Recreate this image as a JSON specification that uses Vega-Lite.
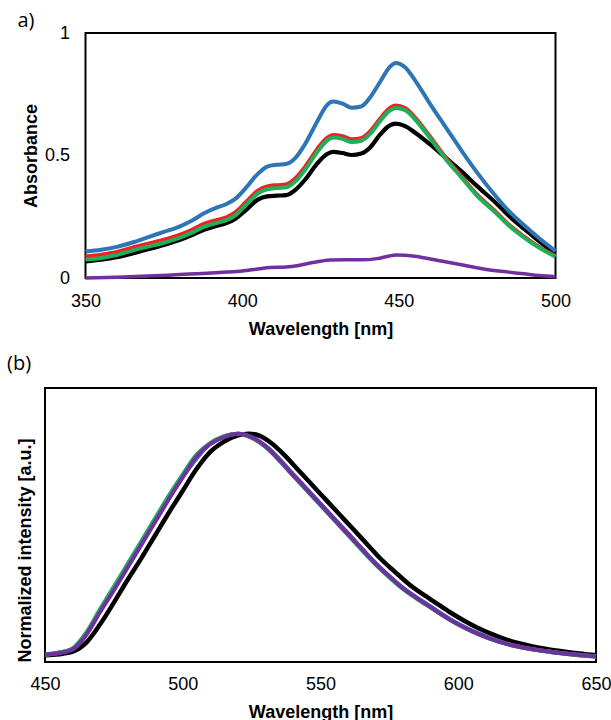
{
  "$schema": "https://vega.github.io/schema/vega-lite/v6.json",
  "background": "white",
  "padding": {"left": 6, "top": 10, "right": 5, "bottom": 5},
  "spacing": 110,
  "bounds": "flush",
  "center": true,
  "config": {
    "view": {"stroke": "black", "strokeWidth": 2},
    "axis": {
      "domain": false, "grid": false, "ticks": false, "tickSize": 0, "labelFlush": false, "labelOverlap": false,
      "labelFont": "Liberation Sans", "labelFontSize": 18, "labelColor": "black",
      "titleFont": "Liberation Sans", "titleFontSize": 18, "titleFontWeight": "bold", "titleColor": "black"
    },
    "title": {"font": "Open Sans", "fontSize": 20, "fontWeight": "normal", "color": "black", "anchor": "start", "frame": "bounds", "baseline": "alphabetic"}
  },
  "datasets": {
    "abs": [
      {"s":"Black","nm":350,"v":0.068},{"s":"Black","nm":355,"v":0.075},{"s":"Black","nm":360,"v":0.085},{"s":"Black","nm":365,"v":0.1},{"s":"Black","nm":370,"v":0.117},{"s":"Black","nm":375,"v":0.135},{"s":"Black","nm":380,"v":0.155},{"s":"Black","nm":384,"v":0.175},{"s":"Black","nm":388,"v":0.198},{"s":"Black","nm":392,"v":0.213},{"s":"Black","nm":395,"v":0.224},{"s":"Black","nm":398,"v":0.243},{"s":"Black","nm":401,"v":0.275},{"s":"Black","nm":405,"v":0.32},{"s":"Black","nm":408,"v":0.333},{"s":"Black","nm":411,"v":0.336},{"s":"Black","nm":414,"v":0.338},{"s":"Black","nm":417,"v":0.36},{"s":"Black","nm":420,"v":0.4},{"s":"Black","nm":424,"v":0.468},{"s":"Black","nm":427,"v":0.505},{"s":"Black","nm":429,"v":0.515},{"s":"Black","nm":432,"v":0.51},{"s":"Black","nm":435,"v":0.502},{"s":"Black","nm":438,"v":0.508},{"s":"Black","nm":441,"v":0.535},{"s":"Black","nm":444,"v":0.585},{"s":"Black","nm":447,"v":0.622},{"s":"Black","nm":449,"v":0.63},{"s":"Black","nm":452,"v":0.62},{"s":"Black","nm":455,"v":0.595},{"s":"Black","nm":460,"v":0.545},{"s":"Black","nm":465,"v":0.49},{"s":"Black","nm":470,"v":0.435},{"s":"Black","nm":475,"v":0.375},{"s":"Black","nm":481,"v":0.306},{"s":"Black","nm":485,"v":0.255},{"s":"Black","nm":490,"v":0.2},{"s":"Black","nm":495,"v":0.148},{"s":"Black","nm":500,"v":0.1},

      {"s":"Red","nm":350,"v":0.088},{"s":"Red","nm":355,"v":0.095},{"s":"Red","nm":360,"v":0.106},{"s":"Red","nm":365,"v":0.124},{"s":"Red","nm":370,"v":0.14},{"s":"Red","nm":375,"v":0.156},{"s":"Red","nm":380,"v":0.176},{"s":"Red","nm":384,"v":0.197},{"s":"Red","nm":388,"v":0.222},{"s":"Red","nm":392,"v":0.237},{"s":"Red","nm":395,"v":0.248},{"s":"Red","nm":398,"v":0.27},{"s":"Red","nm":401,"v":0.307},{"s":"Red","nm":405,"v":0.357},{"s":"Red","nm":408,"v":0.374},{"s":"Red","nm":411,"v":0.379},{"s":"Red","nm":414,"v":0.382},{"s":"Red","nm":417,"v":0.407},{"s":"Red","nm":420,"v":0.452},{"s":"Red","nm":424,"v":0.527},{"s":"Red","nm":427,"v":0.571},{"s":"Red","nm":429,"v":0.584},{"s":"Red","nm":432,"v":0.579},{"s":"Red","nm":435,"v":0.566},{"s":"Red","nm":438,"v":0.571},{"s":"Red","nm":441,"v":0.601},{"s":"Red","nm":444,"v":0.65},{"s":"Red","nm":447,"v":0.692},{"s":"Red","nm":449,"v":0.704},{"s":"Red","nm":452,"v":0.694},{"s":"Red","nm":455,"v":0.658},{"s":"Red","nm":460,"v":0.577},{"s":"Red","nm":465,"v":0.491},{"s":"Red","nm":470,"v":0.415},{"s":"Red","nm":475,"v":0.34},{"s":"Red","nm":481,"v":0.27},{"s":"Red","nm":485,"v":0.219},{"s":"Red","nm":490,"v":0.169},{"s":"Red","nm":495,"v":0.125},{"s":"Red","nm":500,"v":0.09},

      {"s":"Green","nm":350,"v":0.075},{"s":"Green","nm":355,"v":0.082},{"s":"Green","nm":360,"v":0.094},{"s":"Green","nm":365,"v":0.112},{"s":"Green","nm":370,"v":0.128},{"s":"Green","nm":375,"v":0.144},{"s":"Green","nm":380,"v":0.164},{"s":"Green","nm":384,"v":0.185},{"s":"Green","nm":388,"v":0.21},{"s":"Green","nm":392,"v":0.225},{"s":"Green","nm":395,"v":0.236},{"s":"Green","nm":398,"v":0.258},{"s":"Green","nm":401,"v":0.295},{"s":"Green","nm":405,"v":0.345},{"s":"Green","nm":408,"v":0.362},{"s":"Green","nm":411,"v":0.367},{"s":"Green","nm":414,"v":0.37},{"s":"Green","nm":417,"v":0.395},{"s":"Green","nm":420,"v":0.44},{"s":"Green","nm":424,"v":0.515},{"s":"Green","nm":427,"v":0.56},{"s":"Green","nm":429,"v":0.573},{"s":"Green","nm":432,"v":0.568},{"s":"Green","nm":435,"v":0.555},{"s":"Green","nm":438,"v":0.56},{"s":"Green","nm":441,"v":0.59},{"s":"Green","nm":444,"v":0.64},{"s":"Green","nm":447,"v":0.682},{"s":"Green","nm":449,"v":0.694},{"s":"Green","nm":452,"v":0.685},{"s":"Green","nm":455,"v":0.65},{"s":"Green","nm":460,"v":0.57},{"s":"Green","nm":465,"v":0.485},{"s":"Green","nm":470,"v":0.41},{"s":"Green","nm":475,"v":0.335},{"s":"Green","nm":481,"v":0.265},{"s":"Green","nm":485,"v":0.215},{"s":"Green","nm":490,"v":0.165},{"s":"Green","nm":495,"v":0.122},{"s":"Green","nm":500,"v":0.087},

      {"s":"Blue","nm":350,"v":0.108},{"s":"Blue","nm":355,"v":0.115},{"s":"Blue","nm":360,"v":0.127},{"s":"Blue","nm":365,"v":0.145},{"s":"Blue","nm":370,"v":0.167},{"s":"Blue","nm":375,"v":0.188},{"s":"Blue","nm":380,"v":0.21},{"s":"Blue","nm":384,"v":0.235},{"s":"Blue","nm":388,"v":0.265},{"s":"Blue","nm":392,"v":0.288},{"s":"Blue","nm":395,"v":0.302},{"s":"Blue","nm":398,"v":0.325},{"s":"Blue","nm":401,"v":0.365},{"s":"Blue","nm":405,"v":0.425},{"s":"Blue","nm":408,"v":0.455},{"s":"Blue","nm":411,"v":0.462},{"s":"Blue","nm":414,"v":0.465},{"s":"Blue","nm":417,"v":0.49},{"s":"Blue","nm":420,"v":0.545},{"s":"Blue","nm":424,"v":0.64},{"s":"Blue","nm":427,"v":0.705},{"s":"Blue","nm":429,"v":0.72},{"s":"Blue","nm":432,"v":0.712},{"s":"Blue","nm":435,"v":0.695},{"s":"Blue","nm":438,"v":0.7},{"s":"Blue","nm":441,"v":0.74},{"s":"Blue","nm":444,"v":0.8},{"s":"Blue","nm":447,"v":0.86},{"s":"Blue","nm":449,"v":0.878},{"s":"Blue","nm":452,"v":0.86},{"s":"Blue","nm":455,"v":0.81},{"s":"Blue","nm":460,"v":0.71},{"s":"Blue","nm":465,"v":0.615},{"s":"Blue","nm":470,"v":0.52},{"s":"Blue","nm":475,"v":0.43},{"s":"Blue","nm":481,"v":0.333},{"s":"Blue","nm":485,"v":0.275},{"s":"Blue","nm":490,"v":0.215},{"s":"Blue","nm":495,"v":0.16},{"s":"Blue","nm":500,"v":0.11},

      {"s":"Purple","nm":350,"v":0.0},{"s":"Purple","nm":360,"v":0.003},{"s":"Purple","nm":370,"v":0.008},{"s":"Purple","nm":380,"v":0.014},{"s":"Purple","nm":390,"v":0.02},{"s":"Purple","nm":395,"v":0.024},{"s":"Purple","nm":400,"v":0.029},{"s":"Purple","nm":405,"v":0.037},{"s":"Purple","nm":409,"v":0.043},{"s":"Purple","nm":414,"v":0.045},{"s":"Purple","nm":418,"v":0.051},{"s":"Purple","nm":423,"v":0.064},{"s":"Purple","nm":428,"v":0.073},{"s":"Purple","nm":433,"v":0.075},{"s":"Purple","nm":438,"v":0.074},{"s":"Purple","nm":443,"v":0.079},{"s":"Purple","nm":447,"v":0.09},{"s":"Purple","nm":449,"v":0.094},{"s":"Purple","nm":452,"v":0.093},{"s":"Purple","nm":457,"v":0.085},{"s":"Purple","nm":464,"v":0.068},{"s":"Purple","nm":470,"v":0.054},{"s":"Purple","nm":478,"v":0.035},{"s":"Purple","nm":485,"v":0.024},{"s":"Purple","nm":490,"v":0.017},{"s":"Purple","nm":495,"v":0.01},{"s":"Purple","nm":500,"v":0.005}
    ],
    "fl": [
      {"s":"Black","nm":450,"v":0.03},{"s":"Black","nm":455,"v":0.034},{"s":"Black","nm":460,"v":0.045},{"s":"Black","nm":465,"v":0.085},{"s":"Black","nm":470,"v":0.165},{"s":"Black","nm":475,"v":0.26},{"s":"Black","nm":480,"v":0.36},{"s":"Black","nm":485,"v":0.455},{"s":"Black","nm":490,"v":0.555},{"s":"Black","nm":495,"v":0.655},{"s":"Black","nm":500,"v":0.75},{"s":"Black","nm":505,"v":0.845},{"s":"Black","nm":510,"v":0.92},{"s":"Black","nm":515,"v":0.965},{"s":"Black","nm":520,"v":0.993},{"s":"Black","nm":524,"v":1.0},{"s":"Black","nm":528,"v":0.99},{"s":"Black","nm":532,"v":0.96},{"s":"Black","nm":537,"v":0.905},{"s":"Black","nm":542,"v":0.84},{"s":"Black","nm":547,"v":0.775},{"s":"Black","nm":552,"v":0.71},{"s":"Black","nm":557,"v":0.645},{"s":"Black","nm":562,"v":0.58},{"s":"Black","nm":567,"v":0.515},{"s":"Black","nm":572,"v":0.45},{"s":"Black","nm":577,"v":0.395},{"s":"Black","nm":582,"v":0.342},{"s":"Black","nm":587,"v":0.298},{"s":"Black","nm":592,"v":0.258},{"s":"Black","nm":597,"v":0.218},{"s":"Black","nm":602,"v":0.182},{"s":"Black","nm":607,"v":0.15},{"s":"Black","nm":612,"v":0.123},{"s":"Black","nm":617,"v":0.1},{"s":"Black","nm":622,"v":0.082},{"s":"Black","nm":627,"v":0.068},{"s":"Black","nm":632,"v":0.057},{"s":"Black","nm":637,"v":0.048},{"s":"Black","nm":642,"v":0.04},{"s":"Black","nm":647,"v":0.033},{"s":"Black","nm":650,"v":0.03},

      {"s":"Red","nm":450,"v":0.032},{"s":"Red","nm":460,"v":0.056},{"s":"Red","nm":465,"v":0.121},{"s":"Red","nm":470,"v":0.222},{"s":"Red","nm":480,"v":0.418},{"s":"Red","nm":490,"v":0.618},{"s":"Red","nm":500,"v":0.812},{"s":"Red","nm":510,"v":0.956},{"s":"Red","nm":520,"v":1.0},{"s":"Red","nm":530,"v":0.945},{"s":"Red","nm":540,"v":0.82},{"s":"Red","nm":550,"v":0.69},{"s":"Red","nm":560,"v":0.56},{"s":"Red","nm":570,"v":0.43},{"s":"Red","nm":580,"v":0.322},{"s":"Red","nm":590,"v":0.24},{"s":"Red","nm":600,"v":0.165},{"s":"Red","nm":610,"v":0.11},{"s":"Red","nm":620,"v":0.072},{"s":"Red","nm":630,"v":0.05},{"s":"Red","nm":640,"v":0.035},{"s":"Red","nm":650,"v":0.024},

      {"s":"Blue","nm":450,"v":0.032},{"s":"Blue","nm":460,"v":0.056},{"s":"Blue","nm":465,"v":0.12},{"s":"Blue","nm":470,"v":0.22},{"s":"Blue","nm":480,"v":0.415},{"s":"Blue","nm":490,"v":0.615},{"s":"Blue","nm":500,"v":0.81},{"s":"Blue","nm":510,"v":0.955},{"s":"Blue","nm":520,"v":1.0},{"s":"Blue","nm":530,"v":0.948},{"s":"Blue","nm":540,"v":0.824},{"s":"Blue","nm":550,"v":0.694},{"s":"Blue","nm":560,"v":0.564},{"s":"Blue","nm":570,"v":0.434},{"s":"Blue","nm":580,"v":0.325},{"s":"Blue","nm":590,"v":0.243},{"s":"Blue","nm":600,"v":0.167},{"s":"Blue","nm":610,"v":0.112},{"s":"Blue","nm":620,"v":0.073},{"s":"Blue","nm":630,"v":0.051},{"s":"Blue","nm":640,"v":0.036},{"s":"Blue","nm":650,"v":0.025},

      {"s":"Green","nm":450,"v":0.033},{"s":"Green","nm":455,"v":0.04},{"s":"Green","nm":460,"v":0.06},{"s":"Green","nm":465,"v":0.13},{"s":"Green","nm":470,"v":0.232},{"s":"Green","nm":475,"v":0.33},{"s":"Green","nm":480,"v":0.43},{"s":"Green","nm":485,"v":0.53},{"s":"Green","nm":490,"v":0.63},{"s":"Green","nm":495,"v":0.73},{"s":"Green","nm":500,"v":0.822},{"s":"Green","nm":505,"v":0.908},{"s":"Green","nm":510,"v":0.96},{"s":"Green","nm":515,"v":0.988},{"s":"Green","nm":520,"v":1.0},{"s":"Green","nm":525,"v":0.982},{"s":"Green","nm":530,"v":0.942},{"s":"Green","nm":540,"v":0.816},{"s":"Green","nm":550,"v":0.686},{"s":"Green","nm":560,"v":0.556},{"s":"Green","nm":570,"v":0.427},{"s":"Green","nm":580,"v":0.319},{"s":"Green","nm":590,"v":0.238},{"s":"Green","nm":600,"v":0.163},{"s":"Green","nm":610,"v":0.108},{"s":"Green","nm":620,"v":0.071},{"s":"Green","nm":630,"v":0.049},{"s":"Green","nm":640,"v":0.034},{"s":"Green","nm":650,"v":0.023},

      {"s":"Purple","nm":450,"v":0.032},{"s":"Purple","nm":455,"v":0.038},{"s":"Purple","nm":460,"v":0.056},{"s":"Purple","nm":465,"v":0.12},{"s":"Purple","nm":470,"v":0.22},{"s":"Purple","nm":475,"v":0.315},{"s":"Purple","nm":480,"v":0.415},{"s":"Purple","nm":485,"v":0.515},{"s":"Purple","nm":490,"v":0.615},{"s":"Purple","nm":495,"v":0.715},{"s":"Purple","nm":500,"v":0.81},{"s":"Purple","nm":505,"v":0.9},{"s":"Purple","nm":510,"v":0.955},{"s":"Purple","nm":515,"v":0.985},{"s":"Purple","nm":520,"v":1.0},{"s":"Purple","nm":525,"v":0.985},{"s":"Purple","nm":530,"v":0.945},{"s":"Purple","nm":535,"v":0.885},{"s":"Purple","nm":540,"v":0.82},{"s":"Purple","nm":545,"v":0.755},{"s":"Purple","nm":550,"v":0.69},{"s":"Purple","nm":555,"v":0.625},{"s":"Purple","nm":560,"v":0.56},{"s":"Purple","nm":565,"v":0.495},{"s":"Purple","nm":570,"v":0.43},{"s":"Purple","nm":575,"v":0.375},{"s":"Purple","nm":580,"v":0.322},{"s":"Purple","nm":585,"v":0.28},{"s":"Purple","nm":590,"v":0.24},{"s":"Purple","nm":595,"v":0.2},{"s":"Purple","nm":600,"v":0.165},{"s":"Purple","nm":605,"v":0.135},{"s":"Purple","nm":610,"v":0.11},{"s":"Purple","nm":615,"v":0.088},{"s":"Purple","nm":620,"v":0.072},{"s":"Purple","nm":625,"v":0.06},{"s":"Purple","nm":630,"v":0.05},{"s":"Purple","nm":635,"v":0.042},{"s":"Purple","nm":640,"v":0.035},{"s":"Purple","nm":645,"v":0.029},{"s":"Purple","nm":650,"v":0.024}
    ]
  },
  "vconcat": [
    {
      "title": {"text": "a)", "dx": -5, "offset": 0, "dy": 7},
      "width": 470, "height": 245,
      "data": {"name": "abs"},
      "encoding": {
        "x": {"field": "nm", "type": "quantitative", "scale": {"domain": [350, 500], "nice": false, "zero": false},
              "axis": {"title": "Wavelength [nm]", "values": [350, 400, 450, 500], "labelPadding": 14, "titlePadding": 10}},
        "y": {"field": "v", "type": "quantitative", "scale": {"domain": [0, 1], "nice": false},
              "axis": {"title": "Absorbance", "values": [0, 0.5, 1], "format": "~g", "labelPadding": 16, "titlePadding": 4}},
        "color": {"field": "s", "type": "nominal", "legend": null,
                  "scale": {"domain": ["Black", "Red", "Green", "Blue", "Purple"], "range": ["#000000", "#ee2222", "#1fae5a", "#2e75b6", "#7030a0"]}}
      },
      "layer": [
        {"transform": [{"filter": "datum.s == 'Black'"}], "mark": {"type": "line", "interpolate": "monotone", "strokeWidth": 4.2}},
        {"transform": [{"filter": "datum.s == 'Red'"}], "mark": {"type": "line", "interpolate": "monotone", "strokeWidth": 4}},
        {"transform": [{"filter": "datum.s == 'Green'"}], "mark": {"type": "line", "interpolate": "monotone", "strokeWidth": 4}},
        {"transform": [{"filter": "datum.s == 'Blue'"}], "mark": {"type": "line", "interpolate": "monotone", "strokeWidth": 4}},
        {"transform": [{"filter": "datum.s == 'Purple'"}], "mark": {"type": "line", "interpolate": "monotone", "strokeWidth": 3.5}}
      ]
    },
    {
      "title": {"text": "(b)", "dx": -9, "offset": 20, "dy": 6},
      "width": 551, "height": 274,
      "data": {"name": "fl"},
      "encoding": {
        "x": {"field": "nm", "type": "quantitative", "scale": {"domain": [450, 650], "nice": false, "zero": false},
              "axis": {"title": "Wavelength [nm]", "values": [450, 500, 550, 600, 650], "labelPadding": 13, "titlePadding": 10}},
        "y": {"field": "v", "type": "quantitative", "scale": {"domain": [0, 1.2], "nice": false},
              "axis": {"title": "Normalized intensity [a.u.]", "labels": false, "titleAnchor": "start", "titlePadding": 11}},
        "color": {"field": "s", "type": "nominal", "legend": null,
                  "scale": {"domain": ["Black", "Red", "Green", "Blue", "Purple"], "range": ["#000000", "#ee2222", "#1fae5a", "#2e75b6", "#7030a0"]}}
      },
      "layer": [
        {"transform": [{"filter": "datum.s == 'Black'"}], "mark": {"type": "line", "interpolate": "monotone", "strokeWidth": 4.5}},
        {"transform": [{"filter": "datum.s == 'Red'"}], "mark": {"type": "line", "interpolate": "monotone", "strokeWidth": 4}},
        {"transform": [{"filter": "datum.s == 'Blue'"}], "mark": {"type": "line", "interpolate": "monotone", "strokeWidth": 4}},
        {"transform": [{"filter": "datum.s == 'Green'"}], "mark": {"type": "line", "interpolate": "monotone", "strokeWidth": 4}},
        {"transform": [{"filter": "datum.s == 'Purple'"}], "mark": {"type": "line", "interpolate": "monotone", "strokeWidth": 4}}
      ]
    }
  ]
}
